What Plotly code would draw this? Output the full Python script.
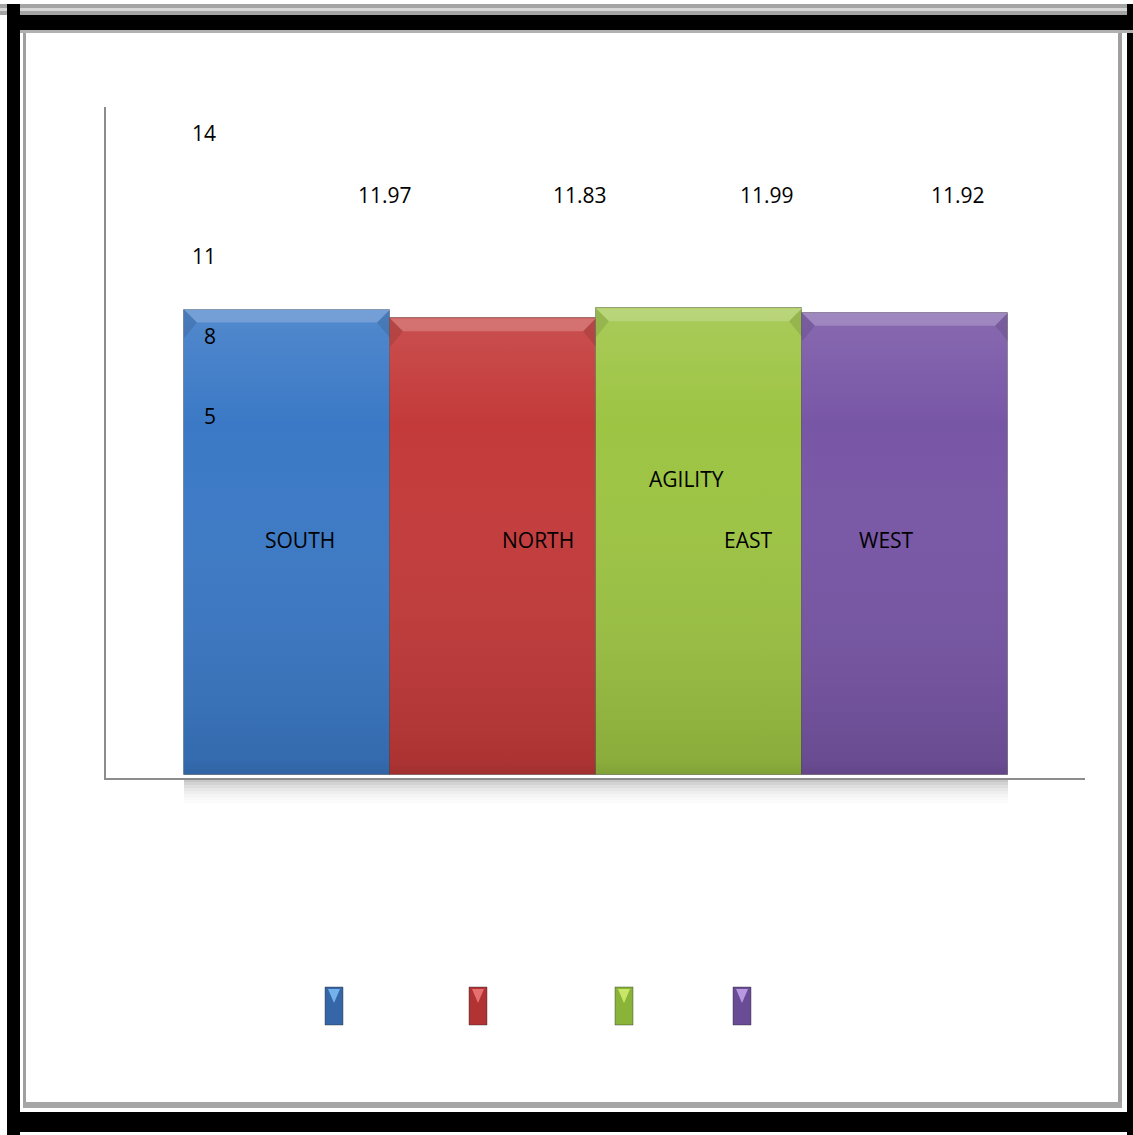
import plotly.graph_objects as go

# Canvas size in pixels
W, H = 1133, 1135

# Chart data
CATEGORIES = ["SOUTH", "NORTH", "EAST", "WEST"]
VALUES = [11.97, 11.83, 11.99, 11.92]
TICK_LABELS = ["14", "11", "8", "5"]
CHART_TITLE = "AGILITY"

# Styling
BAR_COLORS = ["#3b79c6", "#c43a3a", "#9dc443", "#7856a6"]
SWATCH_COLORS = ["#3567a8", "#b13333", "#8ab33a", "#6a4c96"]
SWATCH_LIGHT = ["#7dbef5", "#f07a7a", "#d4f070", "#c7a6f0"]
FONT = "Open Sans"

# Axis scale (value axis starts well above zero)
Y_MIN, Y_MAX = 4.50, 15.20
Y_BASE = 4.55
X_MIN, X_MAX = -0.5 - 78 / 206, 3.5 + 77 / 206


def px(x):
    return x / W


def py(y):
    return 1 - y / H


xs = list(range(len(CATEGORIES)))

fig = go.Figure()

# Main bars
fig.add_trace(go.Bar(
    x=xs,
    y=[v - Y_BASE for v in VALUES],
    base=Y_BASE,
    width=1.0,
    marker=dict(color=BAR_COLORS, line=dict(color="rgba(40,40,40,0.35)", width=1)),
    hoverinfo="skip",
    showlegend=False,
))

# Vertical shading overlay: lighter at the top, darker toward the base
sx, sy = [], []
for i, v in enumerate(VALUES):
    sx += [i - 0.5, i + 0.5, i + 0.5, i - 0.5, i - 0.5, None]
    sy += [Y_BASE, Y_BASE, v, v, Y_BASE, None]
fig.add_trace(go.Scatter(
    x=sx, y=sy, mode="lines", line=dict(width=0),
    fill="toself",
    fillgradient=dict(
        type="vertical",
        start=Y_BASE, stop=max(VALUES),
        colorscale=[[0, "rgba(0,0,0,0.18)"], [0.03, "rgba(0,0,0,0.12)"],
                    [0.75, "rgba(255,255,255,0.0)"],
                    [1, "rgba(255,255,255,0.12)"]],
    ),
    hoverinfo="skip", showlegend=False,
))

# Bevel: light top band and darker top corners
DX, DH = 13 / 206, 13 / 62.7
bx, by, ex, ey = [], [], [], []
for i, v in enumerate(VALUES):
    bx += [i - 0.5, i + 0.5, i + 0.5 - DX, i - 0.5 + DX, i - 0.5, None]
    by += [v, v, v - DH, v - DH, v, None]
    ex += [i - 0.5, i - 0.5 + DX, i - 0.5, i - 0.5, None]
    ey += [v, v - DH, v - 2.2 * DH, v, None]
    ex += [i + 0.5, i + 0.5 - DX, i + 0.5, i + 0.5, None]
    ey += [v, v - DH, v - 2.2 * DH, v, None]
fig.add_trace(go.Scatter(
    x=ex, y=ey, mode="lines", line=dict(width=0), fill="toself",
    fillcolor="rgba(0,0,0,0.10)", hoverinfo="skip", showlegend=False,
))
fig.add_trace(go.Scatter(
    x=bx, y=by, mode="lines", line=dict(width=0), fill="toself",
    fillcolor="rgba(255,255,255,0.20)", hoverinfo="skip", showlegend=False,
))

shapes = []

# Soft shadow under the bars
shadow_alphas = [0.30, 0.24, 0.18, 0.13, 0.09, 0.06, 0.035, 0.02]
for k, a in enumerate(shadow_alphas):
    shapes.append(dict(
        type="rect", xref="x", yref="paper", layer="below",
        x0=-0.5, x1=3.5, y0=py(779 + 3 * (k + 1)), y1=py(779 + 3 * k),
        fillcolor=f"rgba(70,70,70,{a})", line=dict(width=0),
    ))

# Legend swatches
swatch_x = [325, 469, 615, 733]
for sx0, c, cl in zip(swatch_x, SWATCH_COLORS, SWATCH_LIGHT):
    shapes.append(dict(
        type="rect", xref="paper", yref="paper",
        x0=px(sx0), x1=px(sx0 + 18), y0=py(1025), y1=py(987),
        fillcolor=c, line=dict(color="rgba(40,40,40,0.4)", width=1),
    ))
    shapes.append(dict(
        type="path", xref="paper", yref="paper",
        path=(f"M {px(sx0 + 3)},{py(989)} L {px(sx0 + 15)},{py(989)} "
              f"L {px(sx0 + 9)},{py(1003)} Z"),
        fillcolor=cl, line=dict(width=0), opacity=0.85,
    ))

# Outer frame
def prect(x0, y0, x1, y1, color):
    return dict(type="rect", xref="paper", yref="paper",
                x0=px(x0), x1=px(x1), y0=py(y1), y1=py(y0),
                fillcolor=color, line=dict(width=0))

shapes += [
    prect(0, 4, W, 15, "#a4a4a4"),
    prect(0, 8, W, 11, "#d6d6d6"),
    prect(7, 15, W, 30, "#000000"),
    prect(7, 4, 20, H, "#000000"),
    prect(1127, 4, W, H, "#000000"),
    prect(7, 1112, W, 1132, "#000000"),
    prect(20, 30, W, 33, "#b0b0b0"),
    prect(23, 33, 26, 1106, "#a0a0a0"),
    prect(1118, 33, 1122, 1108, "#a0a0a0"),
    prect(23, 1102, 1122, 1108, "#a6a6a6"),
]

annotations = []

def label(text, x, y, anchor="center"):
    annotations.append(dict(
        text=text, xref="paper", yref="paper", x=px(x), y=py(y),
        xanchor=anchor, yanchor="middle", showarrow=False,
        font=dict(family=FONT, size=21, color="#000000"),
    ))

# Value-axis tick labels
for t, y in zip(TICK_LABELS, [133, 256, 336, 416]):
    label(t, 218, y, "right")

# Data labels
for v, x in zip(VALUES, [385, 580, 767, 958]):
    label(f"{v:.2f}", x, 195)

# Category labels and title
for c, x in zip(CATEGORIES, [300, 538, 748, 886]):
    label(c, x, 540)
label(CHART_TITLE, 686, 479)

fig.update_layout(
    width=W, height=H,
    margin=dict(l=0, r=0, t=0, b=0),
    paper_bgcolor="white", plot_bgcolor="white",
    barmode="overlay", bargap=0,
    xaxis=dict(domain=[px(106), px(1085)], range=[X_MIN, X_MAX],
               showline=True, linecolor="#8c8c8c", linewidth=2,
               showgrid=False, zeroline=False, showticklabels=False,
               ticks="", fixedrange=True),
    yaxis=dict(domain=[py(778), py(107)], range=[Y_MIN, Y_MAX],
               showline=True, linecolor="#8c8c8c", linewidth=2,
               showgrid=False, zeroline=False, showticklabels=False,
               ticks="", fixedrange=True),
    shapes=shapes,
    annotations=annotations,
    showlegend=False,
)

fig.write_html("out.html")
